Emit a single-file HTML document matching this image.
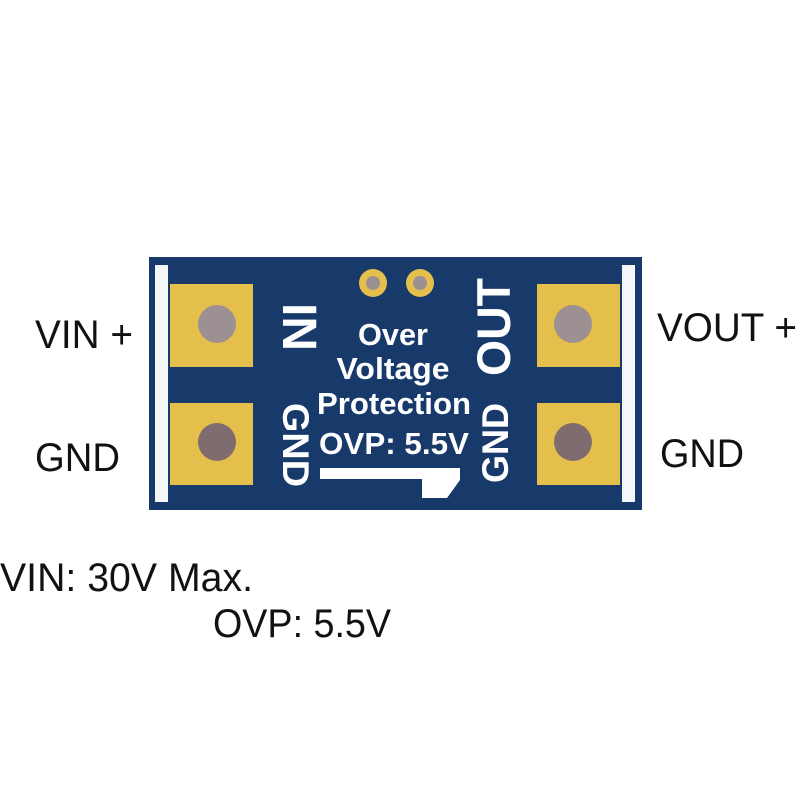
<!DOCTYPE html>
<html><head><meta charset="utf-8"><style>
html,body{margin:0;padding:0;background:#fff;}
</style></head><body>
<svg width="800" height="800" viewBox="0 0 800 800" xmlns="http://www.w3.org/2000/svg">
<rect width="800" height="800" fill="#fff"/>
<rect x="149" y="257" width="493" height="253" fill="#183a6b"/>
<rect x="155" y="265" width="13" height="237" fill="#f4f6f8"/>
<rect x="622" y="265" width="13" height="237" fill="#f4f6f8"/>
<g fill="#e5bf4c">
<rect x="170" y="284" width="83" height="83"/>
<rect x="170" y="403" width="83" height="82"/>
<rect x="537" y="284" width="83" height="83"/>
<rect x="537" y="403" width="83" height="82"/>
<circle cx="373" cy="283" r="14"/>
<circle cx="420" cy="283" r="14"/>
</g>
<g fill="#9d9092">
<circle cx="217" cy="324" r="19"/>
<circle cx="573" cy="324" r="19"/>
<circle cx="373" cy="283" r="7"/>
<circle cx="420" cy="283" r="7"/>
</g>
<g fill="#7e6c6e">
<circle cx="217" cy="442" r="19"/>
<circle cx="573" cy="442" r="19"/>
</g>
<g font-family="Liberation Sans, sans-serif" font-weight="bold" fill="#fff" text-anchor="middle">
<text x="393" y="345" font-size="31" textLength="70" lengthAdjust="spacingAndGlyphs">Over</text>
<text x="393" y="379" font-size="31" textLength="113" lengthAdjust="spacingAndGlyphs">Voltage</text>
<text x="394" y="414" font-size="31" textLength="154" lengthAdjust="spacingAndGlyphs">Protection</text>
<text x="394" y="454" font-size="31" textLength="150" lengthAdjust="spacingAndGlyphs">OVP: 5.5V</text>
<text transform="translate(283,327) rotate(90)" font-size="48">IN</text>
<text transform="translate(283,445) rotate(90)" font-size="37" textLength="84" lengthAdjust="spacingAndGlyphs">GND</text>
<text transform="translate(510,327) rotate(-90)" font-size="47" textLength="98" lengthAdjust="spacingAndGlyphs">OUT</text>
<text transform="translate(508,443) rotate(-90)" font-size="37" textLength="80" lengthAdjust="spacingAndGlyphs">GND</text>
</g>
<polygon points="320,468 460,468 460,480 447,498 422,498 422,479 320,479" fill="#fff"/>
<g font-family="Liberation Sans, sans-serif" font-size="40" fill="#111">
<text x="35" y="348" textLength="98" lengthAdjust="spacingAndGlyphs">VIN +</text>
<text x="35" y="471" textLength="85" lengthAdjust="spacingAndGlyphs">GND</text>
<text x="657" y="341" textLength="140" lengthAdjust="spacingAndGlyphs">VOUT +</text>
<text x="660" y="467" textLength="84" lengthAdjust="spacingAndGlyphs">GND</text>
<text x="0" y="591" textLength="253" lengthAdjust="spacingAndGlyphs">VIN: 30V Max.</text>
<text x="213" y="637" textLength="178" lengthAdjust="spacingAndGlyphs">OVP: 5.5V</text>
</g>
</svg>
</body></html>
